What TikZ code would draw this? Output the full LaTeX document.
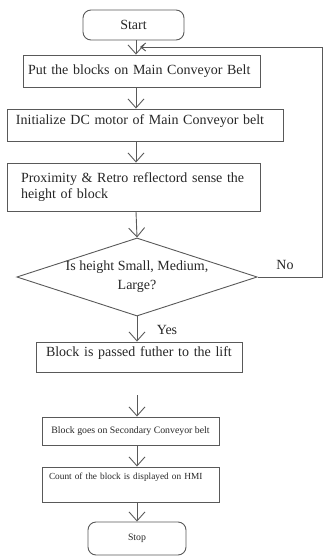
\documentclass[tikz,border=0pt]{standalone}
\usepackage{fontspec}
\setmainfont{Liberation Serif}
\usepackage{tikz}
\usetikzlibrary{shapes, arrows.meta, positioning}

\begin{document}
\begin{tikzpicture}[x=1pt, y=-1pt,
    box/.style={draw=black!65, line width=0.9pt, text=black!85, rectangle, inner sep=0pt},
    terminal/.style={box, rounded corners=8pt},
    decision/.style={box, diamond, aspect=3.08, minimum width=240pt, minimum height=78pt, align=center},
    big/.style={font=\fontsize{14}{16}\selectfont},
    small/.style={font=\fontsize{9.8}{12}\selectfont},
    flow/.style={draw=black!65, line width=0.9pt, -{Straight Barb[length=9pt, width=16pt]}}]
        % Fix the frame of the picture
        \useasboundingbox (0,0) rectangle (324,557);

        % Define the line the arrows run along
        \coordinate (spine) at (136,0);
        \coordinate (edge) at (322,0);
        \coordinate (merge) at (140,47);
        \coordinate (gap) at (137,395);

        % Draw the boxes
        \node[terminal, big, minimum width=101pt, minimum height=30pt] (start) at (133.5,25) {Start};
        \node[box, big, minimum width=237pt, minimum height=32pt, text width=227pt, align=left] (put) at (141.5,71) {Put the blocks on Main Conveyor Belt};
        \node[box, big, minimum width=276pt, minimum height=32pt, text width=258pt, align=left, text height=9.5pt, text depth=11pt] (init) at (145,125) {Initialize DC motor of Main Conveyor belt};
        \node[box, big, minimum width=253pt, minimum height=48pt, text width=225pt, align=left] (sense) at (133.5,187) {Proximity \& Retro reflectord sense the\\height of block};
        \node[decision, font=\fontsize{14}{19}\selectfont] (check) at (137,277) {Is height Small, Medium,\\Large?};
        \node[box, big, minimum width=206pt, minimum height=30pt, text width=186pt, align=left, text height=9.5pt, text depth=11pt] (pass) at (139,357) {Block is passed futher to the lift};
        \node[box, small, minimum width=177pt, minimum height=28pt] (sec) at (130.5,431) {Block goes on Secondary Conveyor belt};
        \node[box, font=\fontsize{9.3}{11}\selectfont, minimum width=177pt, minimum height=35pt, text width=163pt, align=left, text height=6.5pt, text depth=17pt] (count) at (130.5,484.5) {Count of the block is displayed on HMI};
        \node[terminal, small, minimum width=98pt, minimum height=33pt] (stop) at (137,538.5) {Stop};

        % Label the branches
        \node[big, text=black!85] (no) at (285,265) {No};
        \node[big, text=black!85] (yes) at (167,330) {Yes};

        % Draw the arrows
        \draw[flow] (spine |- start.south) -- (spine |- put.north);
        \draw[flow] (spine |- put.south) -- (spine |- init.north);
        \draw[flow] (spine |- init.south) -- (spine |- sense.north);
        \draw[flow] (spine |- sense.south) -- (check.north);
        \draw[flow] (check.south) -- (check.south |- pass.north);
        \draw[flow] (gap) -- (gap |- sec.north);
        \draw[flow] (gap |- sec.south) -- (gap |- count.north);
        \draw[flow] (gap |- count.south) -- (stop.north);
        \draw[flow, -{Straight Barb[length=5pt, width=8pt]}] (check.east) -- (check.east -| edge) |- (merge);
    \end{tikzpicture}
\end{document}
